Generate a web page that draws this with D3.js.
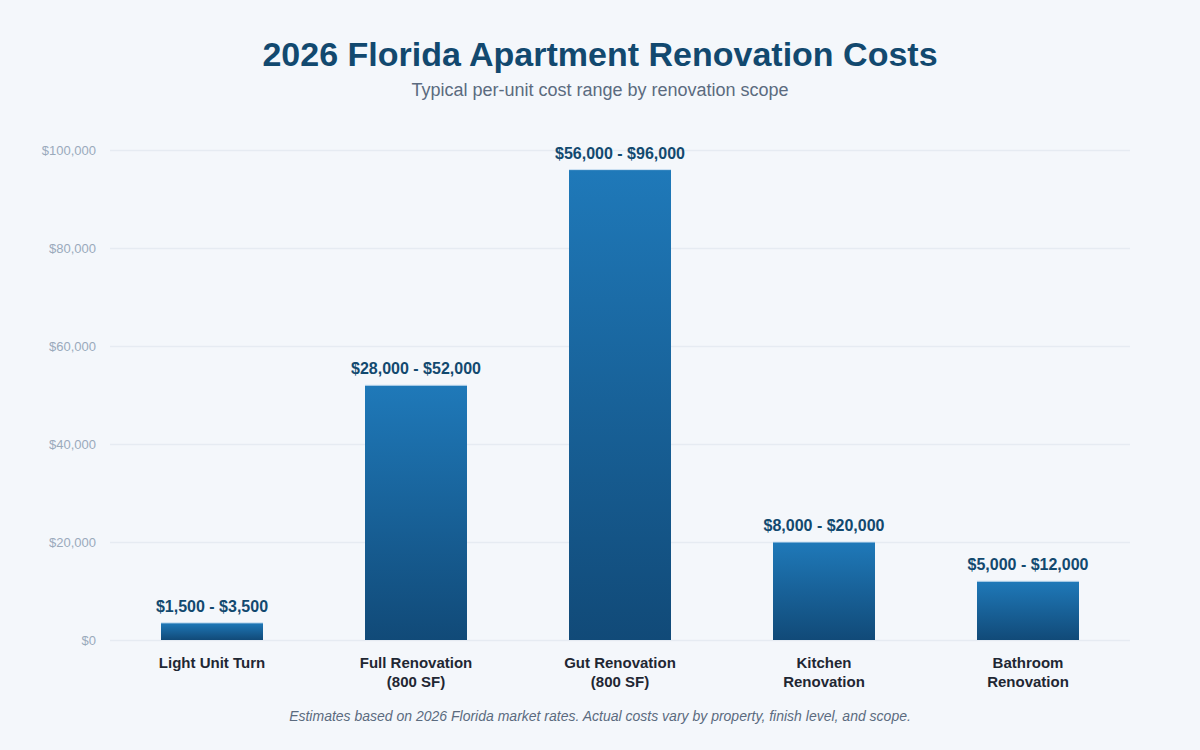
<!DOCTYPE html>
<html><head><meta charset="utf-8">
<script src="https://cdn.jsdelivr.net/npm/d3@7"></script>
<style>
html,body{margin:0;padding:0;background:#f4f7fb;}
svg{display:block;font-family:"Liberation Sans",Arial,Helvetica,sans-serif;}
</style></head>
<body>
<svg id="chart" width="1200" height="750"></svg>
<script>
const categories = [["Light Unit Turn"],["Full Renovation","(800 SF)"],["Gut Renovation","(800 SF)"],["Kitchen","Renovation"],["Bathroom","Renovation"]];
const lowValues = [1500, 28000, 56000, 8000, 5000];
const highValues = [3500, 52000, 96000, 20000, 12000];
const yTicks = [0, 20000, 40000, 60000, 80000, 100000];

const svg = d3.select("#chart");
const W = 1200, H = 750;
const m = {left:110, right:70, top:150, bottom:110};
svg.append("rect").attr("width",W).attr("height",H).attr("fill","#f4f7fb");

const defs = svg.append("defs");
const grad = defs.append("linearGradient").attr("id","barGrad").attr("x1",0).attr("y1",0).attr("x2",0).attr("y2",1);
grad.append("stop").attr("offset","0%").attr("stop-color","#1f79b9");
grad.append("stop").attr("offset","100%").attr("stop-color","#114a78");

const x = d3.scaleBand().domain(d3.range(categories.length)).range([m.left, W-m.right]).paddingInner(0.5).paddingOuter(0.25);
const y = d3.scaleLinear().domain([0,100000]).range([H-m.bottom, m.top]);

// title
svg.append("text").attr("x",600).attr("y",66).attr("text-anchor","middle")
  .attr("font-size",34).attr("font-weight","bold").attr("fill","#12496f")
  .text("2026 Florida Apartment Renovation Costs");
svg.append("text").attr("x",600).attr("y",96).attr("text-anchor","middle")
  .attr("font-size",18).attr("fill","#5b6b7f")
  .text("Typical per-unit cost range by renovation scope");

// grid
const yAxis = d3.axisLeft(y).tickValues(yTicks).tickSize(-(W-m.left-m.right)).tickPadding(14)
  .tickFormat(d => "$" + d3.format(",")(d));
const ga = svg.append("g").attr("transform",`translate(${m.left},0)`).call(yAxis);
ga.select(".domain").remove();
ga.selectAll(".tick line").attr("stroke","#e6ebf2").attr("stroke-width",1.5);
ga.selectAll(".tick text").attr("fill","#9aaabb").attr("font-size",13).attr("font-family","Liberation Sans, Arial, sans-serif");

// bars
svg.selectAll(".bar").data(highValues).join("rect")
  .attr("class","bar")
  .attr("x",(d,i)=>x(i)).attr("width",x.bandwidth())
  .attr("y",d=>y(d)).attr("height",d=>y(0)-y(d))
  .attr("fill","url(#barGrad)");
svg.selectAll(".bartop").data(highValues).join("line")
  .attr("x1",(d,i)=>x(i)).attr("x2",(d,i)=>x(i)+x.bandwidth())
  .attr("y1",d=>y(d)).attr("y2",d=>y(d))
  .attr("stroke","#cfe2f3").attr("stroke-width",1);

// value labels
svg.selectAll(".vlab").data(highValues).join("text")
  .attr("x",(d,i)=>x(i)+x.bandwidth()/2).attr("y",d=>y(d)-11)
  .attr("text-anchor","middle").attr("font-size",16).attr("font-weight","bold").attr("fill","#12496f")
  .text((d,i)=>"$" + d3.format(",")(lowValues[i]) + " - $" + d3.format(",")(d));

// category labels
const cl = svg.selectAll(".clab").data(categories).join("text")
  .attr("text-anchor","middle").attr("font-size",15).attr("font-weight","bold").attr("fill","#1f2733");
cl.each(function(lines,i){
  const t = d3.select(this);
  lines.forEach((ln,j)=>{
    t.append("tspan").attr("x",x(i)+x.bandwidth()/2).attr("y",y(0)+28+j*19).text(ln);
  });
});

// footer
svg.append("text").attr("x",600).attr("y",721).attr("text-anchor","middle")
  .attr("font-size",14).attr("font-style","italic").attr("fill","#5b6b7f")
  .text("Estimates based on 2026 Florida market rates. Actual costs vary by property, finish level, and scope.");
</script>
</body></html>
